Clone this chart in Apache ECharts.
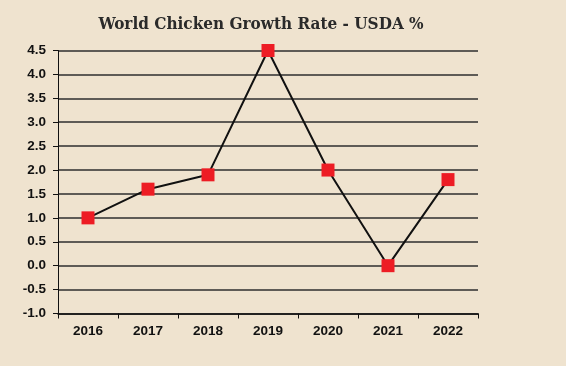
<!DOCTYPE html>
<html><head><meta charset="utf-8">
<script src="https://cdn.jsdelivr.net/npm/echarts@6/dist/echarts.min.js"></script>
<style>html,body{margin:0;padding:0;background:#efe3cf;}#c{width:566px;height:366px;}</style>
</head><body><div id="c"></div>
<script>
const years = ['2016','2017','2018','2019','2020','2021','2022'];
const growth = [1.0, 1.6, 1.9, 4.5, 2.0, 0.0, 1.8];
const chart = echarts.init(document.getElementById('c'));
chart.setOption({
  backgroundColor: '#efe3cf',
  animation: false,
  title: {
    text: 'World Chicken Growth Rate - USDA %',
    left: 256, top: 11, textAlign: 'center',
    textStyle: {fontFamily: "'DejaVu Serif Condensed', 'Liberation Serif', serif", fontWeight: 'bold', fontSize: 17, color: '#2a2a2a'}
  },
  grid: {left: 58, right: 88, top: 50.5, bottom: 52.5, containLabel: false},
  xAxis: {
    type: 'category', data: years, boundaryGap: true,
    axisLine: {onZero: false, lineStyle: {color: '#111', width: 1.5}},
    axisTick: {show: true, length: 5, lineStyle: {color: '#111', width: 1}},
    axisLabel: {fontFamily: 'Liberation Sans', fontWeight: 'bold', fontSize: 13.5, color: '#111', margin: 11}
  },
  yAxis: {
    type: 'value', min: -1, max: 4.5, interval: 0.5,
    axisLine: {show: true, lineStyle: {color: '#111', width: 1}},
    axisTick: {show: true, length: 5, lineStyle: {color: '#111'}},
    axisLabel: {fontFamily: 'Liberation Sans', fontWeight: 'bold', fontSize: 13.5, color: '#111', margin: 12,
      formatter: v => v.toFixed(1)},
    splitLine: {lineStyle: {color: '#2e2e2e', width: 1.5}}
  },
  series: [{
    type: 'line', data: growth,
    symbol: 'rect', symbolSize: 13,
    itemStyle: {color: '#ed1c24'},
    lineStyle: {color: '#111', width: 2}
  }]
});
</script></body></html>
